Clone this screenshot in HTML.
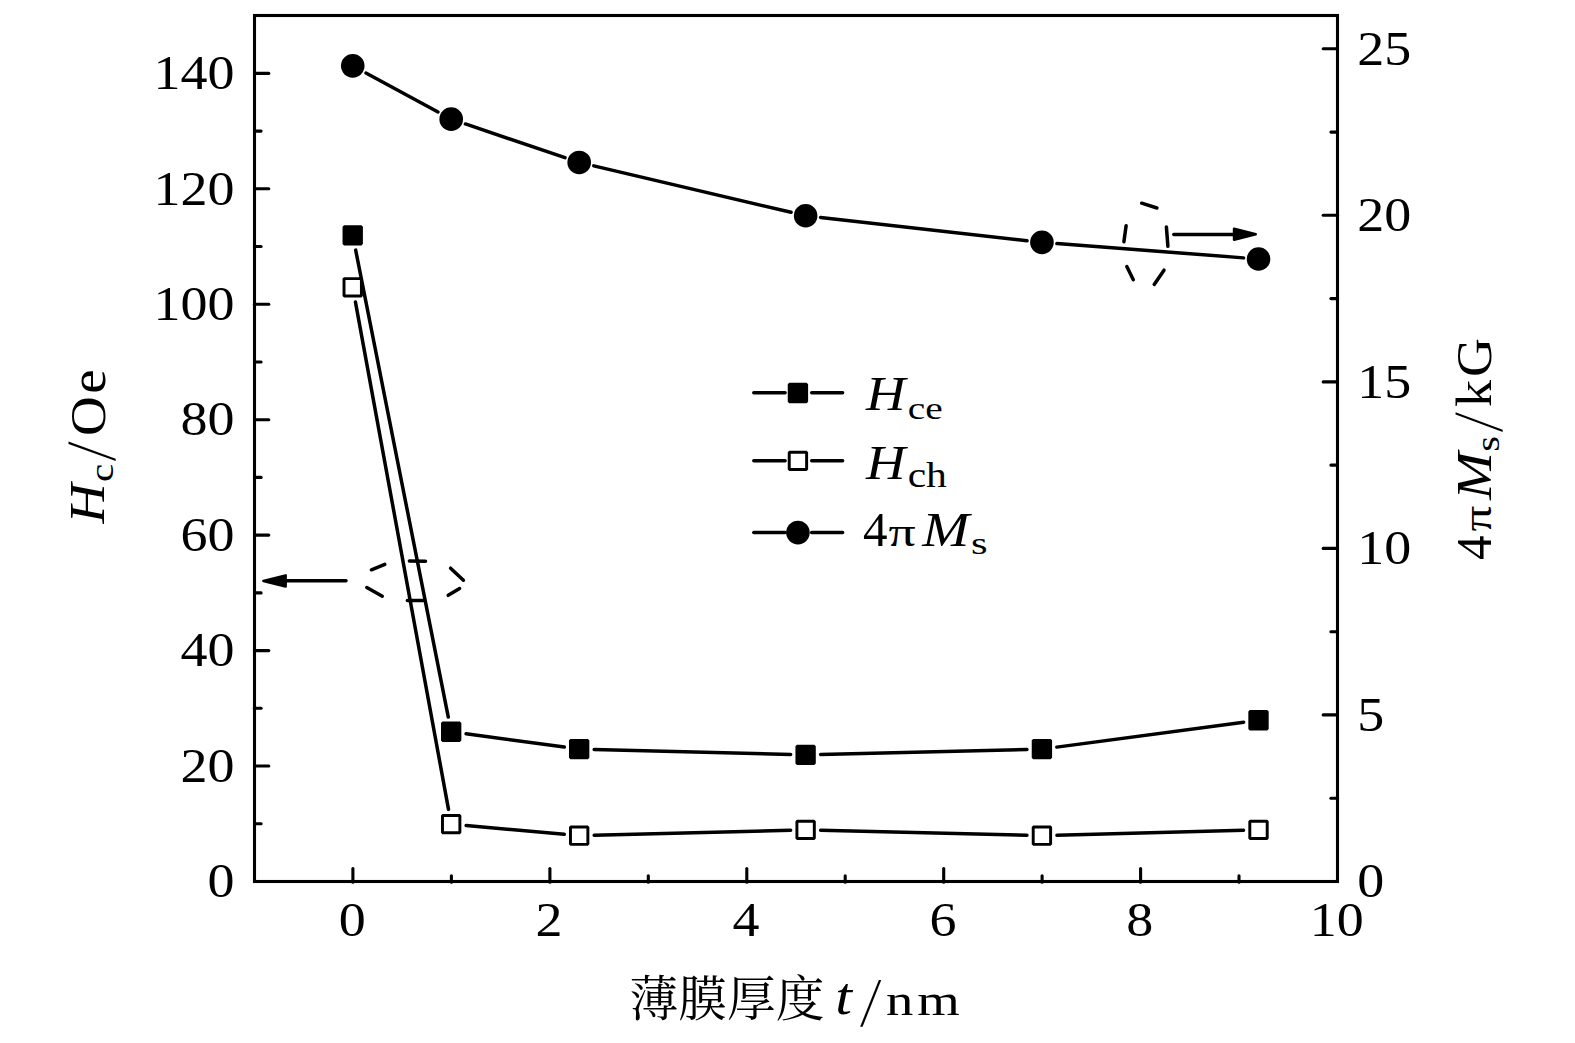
<!DOCTYPE html>
<html lang="zh"><head><meta charset="utf-8"><title>Hc and 4πMs vs film thickness</title>
<style>html,body{margin:0;padding:0;background:#fff}svg{display:block}text{font-family:"Liberation Serif","Noto Serif CJK SC",serif;fill:#000}.it{font-style:italic}.ln{stroke:#000;stroke-width:3.50;stroke-linecap:round;fill:none}.ax{stroke:#000;stroke-width:3.1;fill:none;stroke-linecap:butt}.tk{stroke:#000;stroke-width:3.1;stroke-linecap:round}</style></head><body>
<svg width="1575" height="1043" viewBox="0 0 1575 1043">
<rect width="1575" height="1043" fill="#fff"/>
<rect class="ax" x="254.5" y="15.5" width="1083.0" height="866.0"/>
<line class="tk" x1="254.5" y1="823.7" x2="261.1" y2="823.7"/>
<line class="tk" x1="254.5" y1="766.0" x2="268.8" y2="766.0"/>
<line class="tk" x1="254.5" y1="708.3" x2="261.1" y2="708.3"/>
<line class="tk" x1="254.5" y1="650.6" x2="268.8" y2="650.6"/>
<line class="tk" x1="254.5" y1="592.9" x2="261.1" y2="592.9"/>
<line class="tk" x1="254.5" y1="535.1" x2="268.8" y2="535.1"/>
<line class="tk" x1="254.5" y1="477.4" x2="261.1" y2="477.4"/>
<line class="tk" x1="254.5" y1="419.7" x2="268.8" y2="419.7"/>
<line class="tk" x1="254.5" y1="362.0" x2="261.1" y2="362.0"/>
<line class="tk" x1="254.5" y1="304.2" x2="268.8" y2="304.2"/>
<line class="tk" x1="254.5" y1="246.5" x2="261.1" y2="246.5"/>
<line class="tk" x1="254.5" y1="188.8" x2="268.8" y2="188.8"/>
<line class="tk" x1="254.5" y1="131.1" x2="261.1" y2="131.1"/>
<line class="tk" x1="254.5" y1="73.4" x2="268.8" y2="73.4"/>
<line class="tk" x1="1337.5" y1="798.2" x2="1330.9" y2="798.2"/>
<line class="tk" x1="1337.5" y1="714.9" x2="1323.2" y2="714.9"/>
<line class="tk" x1="1337.5" y1="631.7" x2="1330.9" y2="631.7"/>
<line class="tk" x1="1337.5" y1="548.4" x2="1323.2" y2="548.4"/>
<line class="tk" x1="1337.5" y1="465.1" x2="1330.9" y2="465.1"/>
<line class="tk" x1="1337.5" y1="381.9" x2="1323.2" y2="381.9"/>
<line class="tk" x1="1337.5" y1="298.6" x2="1330.9" y2="298.6"/>
<line class="tk" x1="1337.5" y1="215.3" x2="1323.2" y2="215.3"/>
<line class="tk" x1="1337.5" y1="132.1" x2="1330.9" y2="132.1"/>
<line class="tk" x1="1337.5" y1="48.8" x2="1323.2" y2="48.8"/>
<line class="tk" x1="352.9" y1="882.2" x2="352.9" y2="868.5"/>
<line class="tk" x1="451.4" y1="882.2" x2="451.4" y2="875.8"/>
<line class="tk" x1="549.9" y1="882.2" x2="549.9" y2="868.5"/>
<line class="tk" x1="648.3" y1="882.2" x2="648.3" y2="875.8"/>
<line class="tk" x1="746.8" y1="882.2" x2="746.8" y2="868.5"/>
<line class="tk" x1="845.2" y1="882.2" x2="845.2" y2="875.8"/>
<line class="tk" x1="943.7" y1="882.2" x2="943.7" y2="868.5"/>
<line class="tk" x1="1042.1" y1="882.2" x2="1042.1" y2="875.8"/>
<line class="tk" x1="1140.6" y1="882.2" x2="1140.6" y2="868.5"/>
<line class="tk" x1="1239.0" y1="882.2" x2="1239.0" y2="875.8"/>
<text font-size="50" text-anchor="end" transform="translate(234.45,897.25) scale(1.08,0.96)">0</text>
<text font-size="50" text-anchor="end" transform="translate(234.45,781.81) scale(1.08,0.96)">20</text>
<text font-size="50" text-anchor="end" transform="translate(234.45,666.37) scale(1.08,0.96)">40</text>
<text font-size="50" text-anchor="end" transform="translate(234.45,550.93) scale(1.08,0.96)">60</text>
<text font-size="50" text-anchor="end" transform="translate(234.45,435.49) scale(1.08,0.96)">80</text>
<text font-size="50" text-anchor="end" transform="translate(234.45,320.05) scale(1.08,0.96)">100</text>
<text font-size="50" text-anchor="end" transform="translate(234.45,204.61) scale(1.08,0.96)">120</text>
<text font-size="50" text-anchor="end" transform="translate(234.45,89.17) scale(1.08,0.96)">140</text>
<text font-size="50" text-anchor="start" transform="translate(1357.25,897.25) scale(1.08,0.96)">0</text>
<text font-size="50" text-anchor="start" transform="translate(1357.25,730.72) scale(1.08,0.96)">5</text>
<text font-size="50" text-anchor="start" transform="translate(1357.25,564.19) scale(1.08,0.96)">10</text>
<text font-size="50" text-anchor="start" transform="translate(1357.25,397.66) scale(1.08,0.96)">15</text>
<text font-size="50" text-anchor="start" transform="translate(1357.25,231.13) scale(1.08,0.96)">20</text>
<text font-size="50" text-anchor="start" transform="translate(1357.25,64.60) scale(1.08,0.96)">25</text>
<text font-size="50" text-anchor="middle" transform="translate(352.15,935.50) scale(1.08,0.96)">0</text>
<text font-size="50" text-anchor="middle" transform="translate(549.06,935.50) scale(1.08,0.96)">2</text>
<text font-size="50" text-anchor="middle" transform="translate(745.97,935.50) scale(1.08,0.96)">4</text>
<text font-size="50" text-anchor="middle" transform="translate(942.88,935.50) scale(1.08,0.96)">6</text>
<text font-size="50" text-anchor="middle" transform="translate(1139.79,935.50) scale(1.08,0.96)">8</text>
<text font-size="50" text-anchor="middle" transform="translate(1336.69,935.50) scale(1.08,0.96)">10</text>
<line class="ln" x1="355.46" y1="302.09" x2="448.50" y2="809.38"/>
<line class="ln" x1="466.14" y1="825.48" x2="564.26" y2="834.33"/>
<line class="ln" x1="594.19" y1="835.29" x2="790.65" y2="830.28"/>
<line class="ln" x1="820.64" y1="830.27" x2="1026.94" y2="835.31"/>
<line class="ln" x1="1056.93" y1="835.27" x2="1243.54" y2="830.30"/>
<line class="ln" x1="355.67" y1="250.10" x2="448.29" y2="717.06"/>
<line class="ln" x1="466.07" y1="733.79" x2="564.33" y2="747.08"/>
<line class="ln" x1="594.19" y1="749.48" x2="790.65" y2="754.48"/>
<line class="ln" x1="820.64" y1="754.50" x2="1026.94" y2="749.46"/>
<line class="ln" x1="1056.80" y1="747.11" x2="1243.66" y2="722.22"/>
<line class="ln" x1="365.94" y1="72.99" x2="438.01" y2="112.00"/>
<line class="ln" x1="465.41" y1="123.95" x2="564.99" y2="157.63"/>
<line class="ln" x1="593.80" y1="165.88" x2="791.04" y2="212.29"/>
<line class="ln" x1="820.55" y1="217.41" x2="1027.03" y2="240.69"/>
<line class="ln" x1="1056.89" y1="243.52" x2="1243.58" y2="257.88"/>
<rect x="344.02" y="278.61" width="17.4" height="17.4" fill="#fff" stroke="#000" stroke-width="2.95" stroke-linejoin="bevel"/>
<rect x="442.48" y="815.40" width="17.4" height="17.4" fill="#fff" stroke="#000" stroke-width="2.95" stroke-linejoin="bevel"/>
<rect x="570.47" y="826.95" width="17.4" height="17.4" fill="#fff" stroke="#000" stroke-width="2.95" stroke-linejoin="bevel"/>
<rect x="796.92" y="821.18" width="17.4" height="17.4" fill="#fff" stroke="#000" stroke-width="2.95" stroke-linejoin="bevel"/>
<rect x="1033.21" y="826.95" width="17.4" height="17.4" fill="#fff" stroke="#000" stroke-width="2.95" stroke-linejoin="bevel"/>
<rect x="1249.81" y="821.18" width="17.4" height="17.4" fill="#fff" stroke="#000" stroke-width="2.95" stroke-linejoin="bevel"/>
<rect x="344.02" y="226.66" width="17.4" height="17.4" fill="#000" stroke="#000" stroke-width="2.95" stroke-linejoin="bevel"/>
<rect x="442.48" y="723.05" width="17.4" height="17.4" fill="#000" stroke="#000" stroke-width="2.95" stroke-linejoin="bevel"/>
<rect x="570.47" y="740.37" width="17.4" height="17.4" fill="#000" stroke="#000" stroke-width="2.95" stroke-linejoin="bevel"/>
<rect x="796.92" y="746.14" width="17.4" height="17.4" fill="#000" stroke="#000" stroke-width="2.95" stroke-linejoin="bevel"/>
<rect x="1033.21" y="740.37" width="17.4" height="17.4" fill="#000" stroke="#000" stroke-width="2.95" stroke-linejoin="bevel"/>
<rect x="1249.81" y="711.51" width="17.4" height="17.4" fill="#000" stroke="#000" stroke-width="2.95" stroke-linejoin="bevel"/>
<circle cx="352.75" cy="65.85" r="11.8" fill="#000"/>
<circle cx="451.20" cy="119.14" r="11.8" fill="#000"/>
<circle cx="579.20" cy="162.44" r="11.8" fill="#000"/>
<circle cx="805.64" cy="215.73" r="11.8" fill="#000"/>
<circle cx="1041.93" cy="242.37" r="11.8" fill="#000"/>
<circle cx="1258.53" cy="259.03" r="11.8" fill="#000"/>
<line class="ln" x1="753.8" y1="392.8" x2="785.1" y2="392.8"/>
<line class="ln" x1="811.7" y1="392.8" x2="842.6" y2="392.8"/>
<rect x="789.23" y="384.27" width="17.4" height="17.4" fill="#000" stroke="#000" stroke-width="2.95" stroke-linejoin="bevel"/>
<line class="ln" x1="753.8" y1="460.7" x2="785.1" y2="460.7"/>
<line class="ln" x1="811.7" y1="460.7" x2="842.6" y2="460.7"/>
<rect x="789.23" y="452.17" width="17.4" height="17.4" fill="#fff" stroke="#000" stroke-width="2.95" stroke-linejoin="bevel"/>
<line class="ln" x1="753.8" y1="532.4" x2="785.1" y2="532.4"/>
<line class="ln" x1="811.7" y1="532.4" x2="842.6" y2="532.4"/>
<circle cx="797.95" cy="532.60" r="11.8" fill="#000"/>
<text class="it" font-size="50" transform="translate(866.05,410.30) scale(1.0932,0.9802)">H</text>
<text font-size="35" transform="translate(907.72,418.78) scale(1.1254,0.9226)">ce</text>
<text class="it" font-size="50" transform="translate(866.05,479.00) scale(1.0932,0.9802)">H</text>
<text font-size="35" transform="translate(907.64,486.95) scale(1.1875,1.0051)">ch</text>
<text font-size="50" transform="translate(863.12,546.00) scale(0.9806,0.9643)">4</text>
<text font-size="50" transform="translate(888.59,545.98) scale(1.0779,0.8383)">π</text>
<text class="it" font-size="50" transform="translate(922.31,545.70) scale(1.1303,0.9832)">M</text>
<text font-size="35" transform="translate(971.00,553.58) scale(1.2160,0.9167)">s</text>
<line class="ln" x1="371.4" y1="569.8" x2="384.8" y2="564.4"/>
<line class="ln" x1="409.4" y1="561.0" x2="425.5" y2="561.2"/>
<line class="ln" x1="450.6" y1="568.2" x2="463.4" y2="580.2"/>
<line class="ln" x1="448.2" y1="595.3" x2="459.6" y2="588.5"/>
<line class="ln" x1="407.4" y1="600.4" x2="423.5" y2="600.4"/>
<line class="ln" x1="366.8" y1="587.5" x2="382.3" y2="596.2"/>
<line class="ln" x1="1141.7" y1="203.2" x2="1156.9" y2="208.0"/>
<line class="ln" x1="1126.1" y1="225.8" x2="1123.9" y2="241.8"/>
<line class="ln" x1="1166.4" y1="227.0" x2="1167.9" y2="246.3"/>
<line class="ln" x1="1126.8" y1="266.5" x2="1133.3" y2="279.7"/>
<line class="ln" x1="1164.0" y1="270.2" x2="1154.2" y2="284.4"/>
<line class="ln" x1="346" y1="580.7" x2="284" y2="580.7"/>
<polygon points="263.4,580.9 285.6,575.4 285.6,586.4" fill="#000" stroke="#000" stroke-width="2.6" stroke-linejoin="round"/>
<line class="ln" x1="1173.8" y1="234.5" x2="1236" y2="234.5"/>
<polygon points="1255.7,234.2 1234.1,228.7 1234.1,239.7" fill="#000" stroke="#000" stroke-width="2.6" stroke-linejoin="round"/>
<text x="629.6" y="1016.1" font-size="48.75">薄膜厚度</text>
<text class="it" font-size="50" transform="translate(835.19,1014.48) scale(1.2040,1.0365)">t</text>
<text font-size="50" transform="translate(860.31,1025.60) skewX(-8.758) scale(1.0000,1.4000)">/</text>
<text font-size="50" letter-spacing="3.51" style="font-kerning:none" transform="translate(885.97,1014.60) scale(1.0930,0.9000)">nm</text>
<g transform="translate(104.2,524.5) rotate(-90)">
<text class="it" font-size="50" transform="translate(0.95,0.00) scale(1.1087,0.9954)">H</text>
<text font-size="35" transform="translate(42.56,8.37) scale(1.1733,0.9464)">c</text>
<text font-size="50" transform="translate(63.38,10.79) skewX(-6.782) scale(1.0000,1.4119)">/</text>
<text font-size="50" letter-spacing="2.39" style="font-kerning:none" transform="translate(88.50,0.30) scale(1.1000,1.0000)">Oe</text>
</g>
<g transform="translate(1491,559) rotate(-90)">
<text font-size="50" transform="translate(-0.88,0.00) scale(0.9849,1.0008)">4</text>
<text font-size="50" transform="translate(27.54,-0.02) scale(1.0189,0.8468)">π</text>
<text class="it" font-size="50" transform="translate(59.22,0.00) scale(1.1461,1.0076)">M</text>
<text font-size="35" transform="translate(107.27,7.67) scale(1.1611,0.9345)">s</text>
<text font-size="50" transform="translate(126.89,11.00) skewX(-7.274) scale(1.0000,1.4090)">/</text>
<text font-size="50" letter-spacing="2.74" style="font-kerning:none" transform="translate(151.92,0.30) scale(1.0810,1.0000)">kG</text>
</g>
</svg></body></html>
